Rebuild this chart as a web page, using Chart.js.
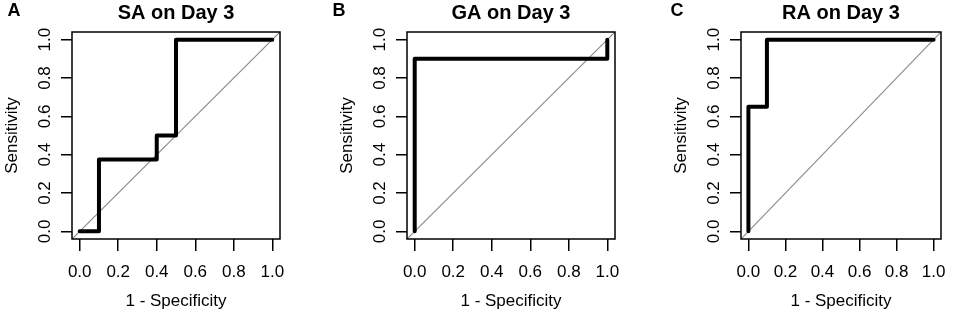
<!DOCTYPE html>
<html lang="en">
<head>
    <meta charset="UTF-8">
    <title>ROC curves on Day 3</title>
    <script src="https://cdn.jsdelivr.net/npm/chart.js"></script>
    <style>
        body { margin: 0; background: #fff; }
        canvas { position: absolute; top: 0; }
    </style>
</head>
<body>
    <canvas id="panelA" width="320" height="316" style="left:0px"></canvas>
    <canvas id="panelB" width="317" height="316" style="left:320px"></canvas>
    <canvas id="panelC" width="320" height="316" style="left:637px"></canvas>
    <script>
        // ROC curves (1 - specificity, sensitivity)
        const panelLetters = ['A', 'B', 'C'];
        const panelTitles = ['SA on Day 3', 'GA on Day 3', 'RA on Day 3'];
        const saFpr = [0, 0.1, 0.1, 0.4, 0.4, 0.5, 0.5, 1];
        const saTpr = [0, 0, 0.375, 0.375, 0.5, 0.5, 1, 1];
        const gaFpr = [0, 0, 1, 1];
        const gaTpr = [0, 0.9, 0.9, 1];
        const raFpr = [0, 0, 0.1, 0.1, 1];
        const raTpr = [0, 0.65, 0.65, 1, 1];
        const tickValues = [0, 0.2, 0.4, 0.6, 0.8, 1];
        const axisMin = -0.04, axisMax = 1.04; // R extends the range by 4%

        const curves = [[saFpr, saTpr], [gaFpr, gaTpr], [raFpr, raTpr]];

        // box left/right inside each canvas, letter x
        const layouts = [
            { id: 'panelA', width: 320, boxLeft: 72, boxRight: 280, letterX: 14 },
            { id: 'panelB', width: 317, boxLeft: 87, boxRight: 295, letterX: 19 },
            { id: 'panelC', width: 320, boxLeft: 104, boxRight: 312, letterX: 40 }
        ];

        const FONT = "'Liberation Sans', Arial, sans-serif";

        const boxPlugin = {
            id: 'box',
            afterDraw(chart, args, opts) {
                const { ctx, chartArea: a } = chart;
                ctx.save();
                ctx.strokeStyle = '#000';
                ctx.lineWidth = 1.5;
                ctx.strokeRect(a.left, a.top, a.right - a.left, a.bottom - a.top);
                ctx.fillStyle = '#000';
                ctx.font = 'bold 18px ' + FONT;
                ctx.textAlign = 'center';
                ctx.textBaseline = 'middle';
                ctx.fillText(opts.letter, opts.x, 11);
                ctx.restore();
            }
        };

        function makeChart(i) {
            const lay = layouts[i];
            const [fpr, tpr] = curves[i];
            const rocPoints = fpr.map((x, k) => ({ x: x, y: tpr[k] }));
            const diagonal = [{ x: axisMin, y: axisMin }, { x: axisMax, y: axisMax }];

            new Chart(document.getElementById(lay.id), {
                type: 'line',
                data: {
                    datasets: [
                        {
                            data: rocPoints,
                            borderColor: '#000',
                            borderWidth: 4,
                            borderCapStyle: 'round',
                            borderJoinStyle: 'round',
                            pointRadius: 0,
                            tension: 0
                        },
                        {
                            data: diagonal,
                            borderColor: '#8c8c8c',
                            borderWidth: 1.2,
                            pointRadius: 0,
                            tension: 0
                        }
                    ]
                },
                options: {
                    responsive: false,
                    animation: false,
                    layout: { padding: { left: lay.boxLeft - 72, right: lay.width - lay.boxRight, top: 0, bottom: 0 } },
                    scales: {
                        x: {
                            type: 'linear',
                            min: axisMin,
                            max: axisMax,
                            afterBuildTicks: s => { s.ticks = tickValues.map(v => ({ value: v })); },
                            afterFit: s => { s.height = 77; },
                            grid: { drawOnChartArea: false, color: '#000', lineWidth: 1.5, tickLength: 12 },
                            border: { display: false },
                            ticks: {
                                color: '#000',
                                font: { family: FONT, size: 17 },
                                padding: 11,
                                maxRotation: 0,
                                callback: v => v.toFixed(1)
                            },
                            title: {
                                display: true,
                                text: '1 - Specificity',
                                color: '#000',
                                font: { family: FONT, size: 17 },
                                padding: { top: 0, bottom: 4 }
                            }
                        },
                        y: {
                            type: 'linear',
                            min: axisMin,
                            max: axisMax,
                            afterBuildTicks: s => { s.ticks = tickValues.map(v => ({ value: v })); },
                            afterFit: s => { s.width = 72; },
                            grid: { drawOnChartArea: false, color: '#000', lineWidth: 1.5, tickLength: 11 },
                            border: { display: false },
                            ticks: {
                                color: '#000',
                                font: { family: FONT, size: 17 },
                                padding: 4,
                                minRotation: 90,
                                maxRotation: 90,
                                crossAlign: 'center',
                                callback: v => v.toFixed(1)
                            },
                            title: {
                                display: true,
                                text: 'Sensitivity',
                                color: '#000',
                                font: { family: FONT, size: 17 },
                                padding: { top: 2, bottom: 0 }
                            }
                        }
                    },
                    plugins: {
                        legend: { display: false },
                        tooltip: { enabled: false },
                        title: {
                            display: true,
                            fullSize: false,
                            text: panelTitles[i],
                            color: '#000',
                            font: { family: FONT, size: 20, weight: 'bold' },
                            padding: { top: 1, bottom: 7 }
                        },
                        box: { letter: panelLetters[i], x: lay.letterX }
                    }
                },
                plugins: [boxPlugin]
            });
        }

        for (let i = 0; i < 3; i++) makeChart(i);
    </script>
</body>
</html>
